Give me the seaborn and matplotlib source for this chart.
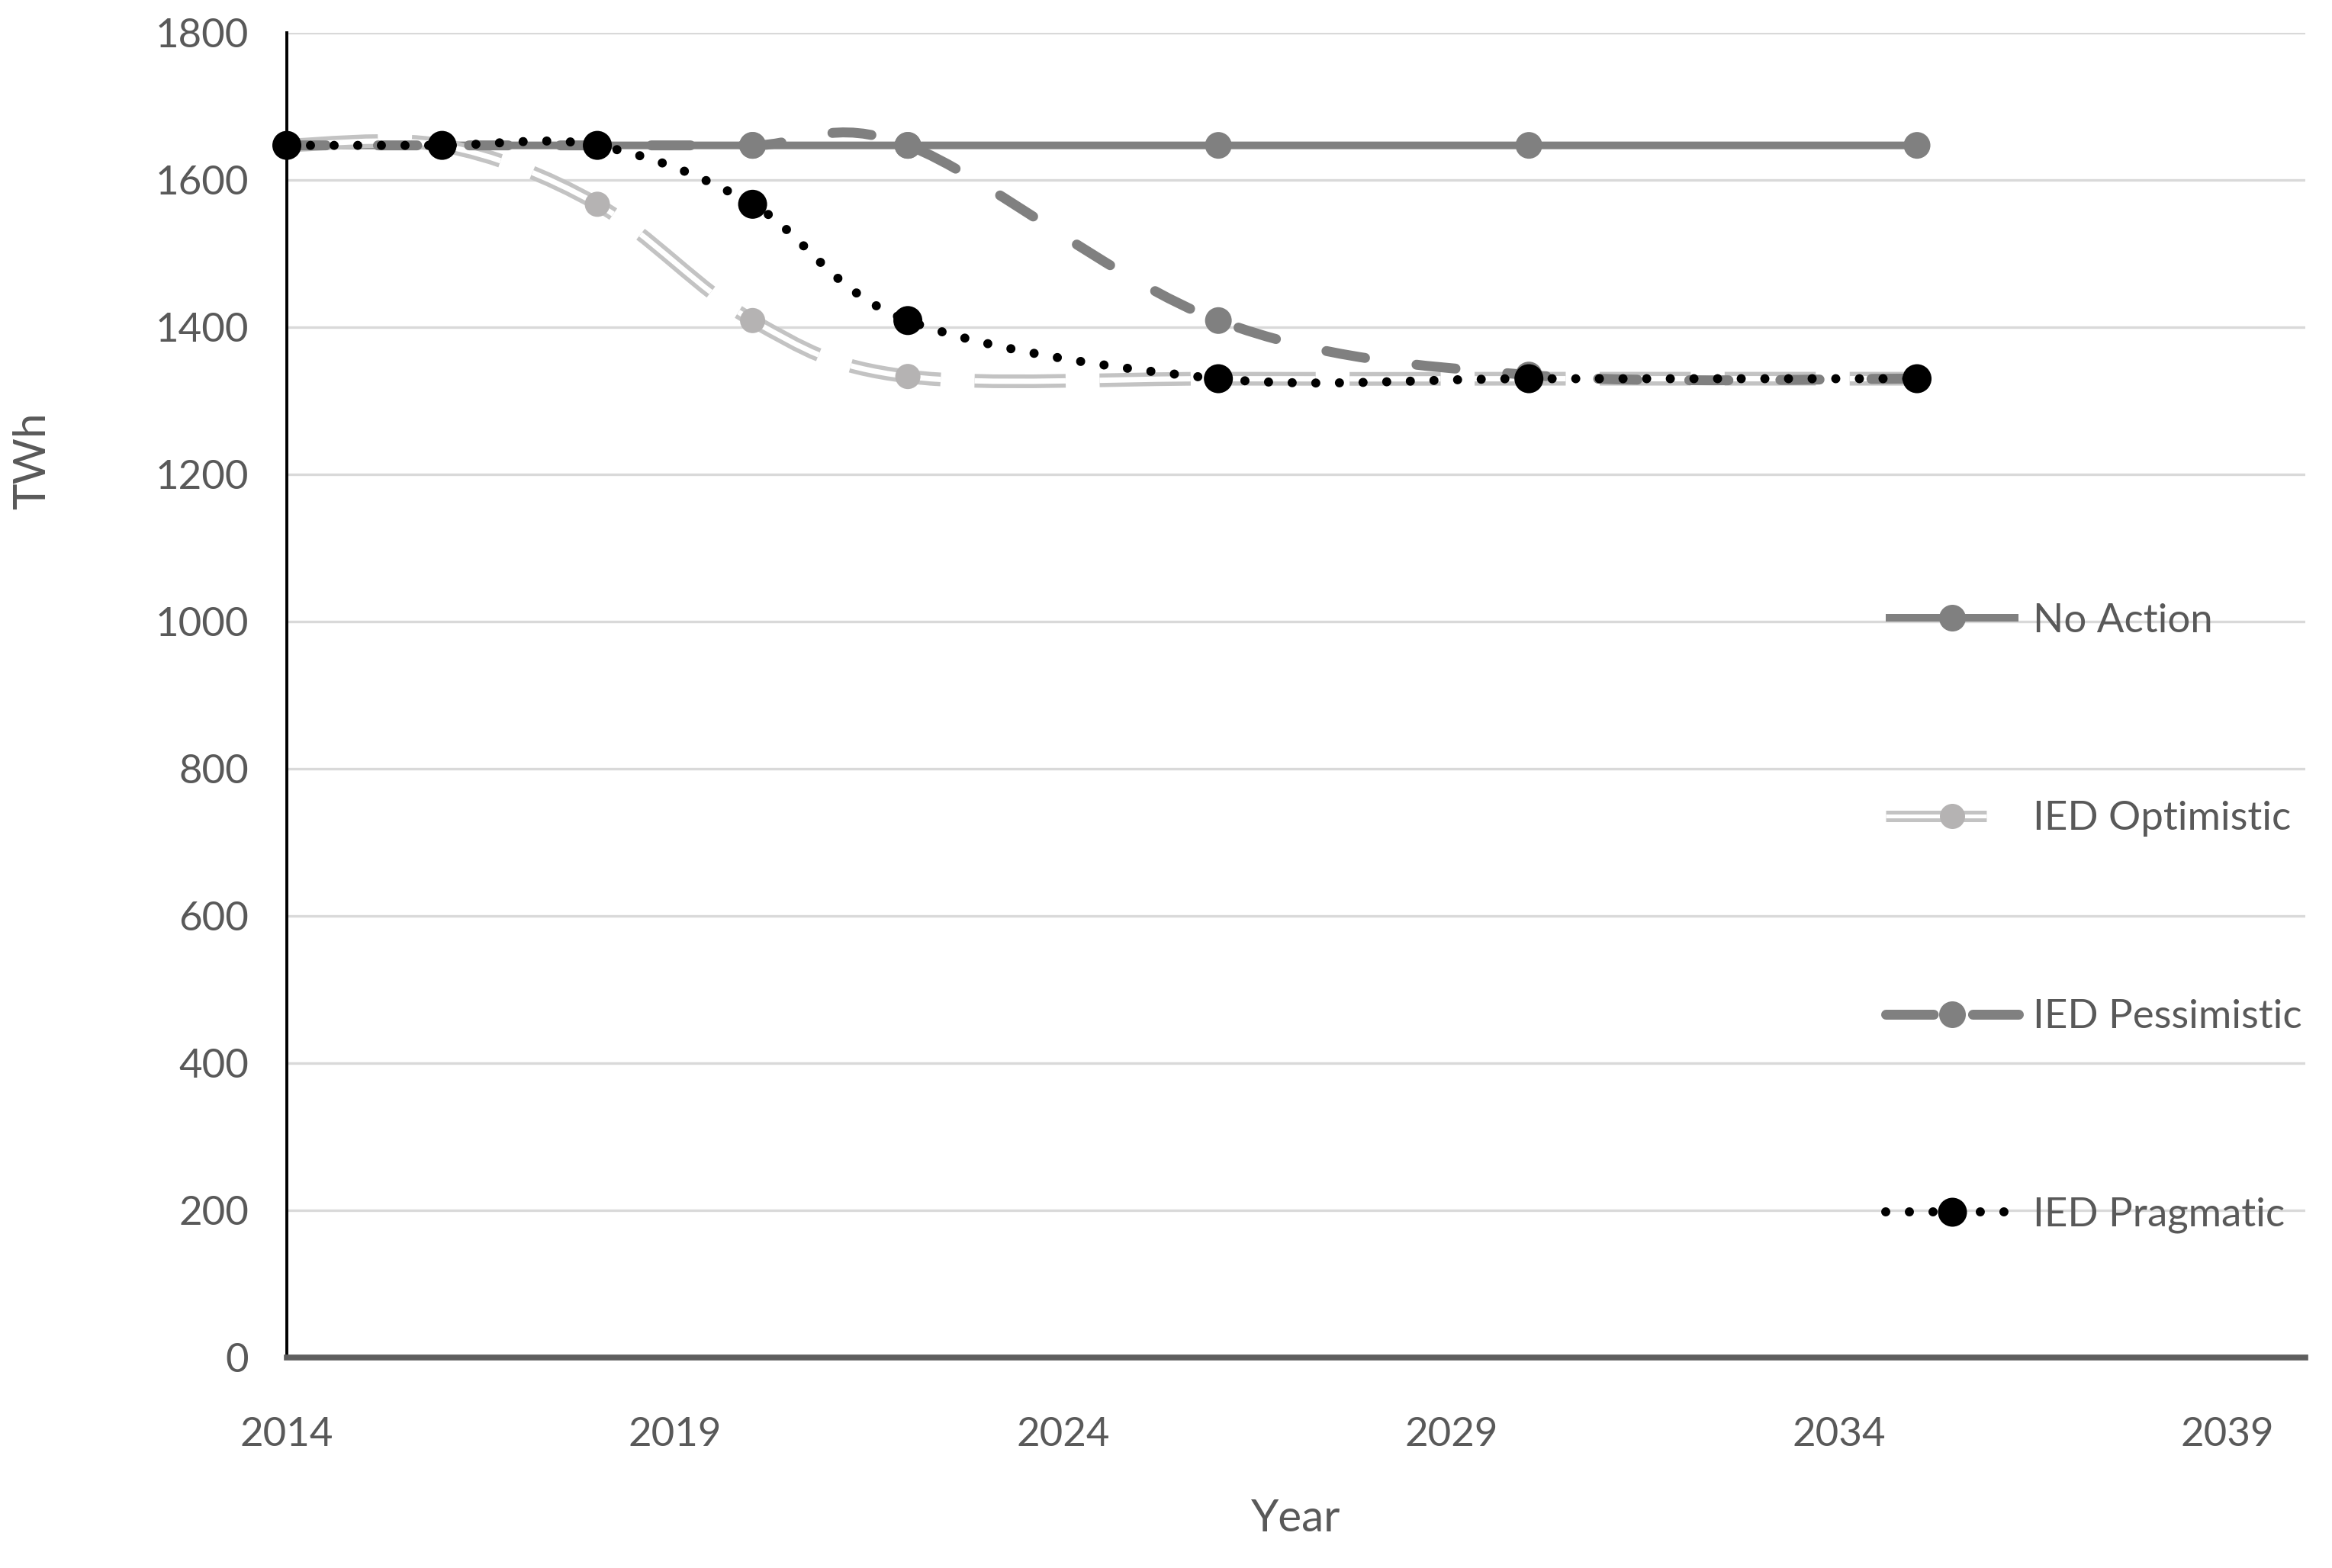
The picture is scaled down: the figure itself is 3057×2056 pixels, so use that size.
import numpy as np
import matplotlib
matplotlib.use("Agg")
import matplotlib.pyplot as plt
import seaborn as sns
from matplotlib.path import Path
from matplotlib.patches import PathPatch
from matplotlib.lines import Line2D
from matplotlib.legend_handler import HandlerTuple

# values (TWh)
years = [2014, 2016, 2018, 2020, 2022, 2026, 2030, 2035]
no_action = [1647, 1647, 1647, 1647, 1647, 1647, 1647, 1647]
ied_optimistic = [1647, 1647, 1567, 1409, 1333, 1330, 1330, 1330]
ied_pessimistic = [1647, 1647, 1647, 1647, 1647, 1409, 1335, 1330]
ied_pragmatic = [1647, 1647, 1647, 1567, 1409, 1330, 1330, 1330]
series_names = ["No Action", "IED Optimistic", "IED Pessimistic", "IED Pragmatic"]
x_ticks = [2014, 2019, 2024, 2029, 2034, 2039]
y_ticks = list(range(0, 1801, 200))

PX = 0.72  # points per pixel at dpi=100
TXT = "#595959"

sns.set_theme(style="white")
plt.rcParams["font.family"] = ["Lato", "DejaVu Sans"]
plt.rcParams["lines.scale_dashes"] = False


def smooth_path(xs, ys):
    # Excel style smoothed line: cubic bezier through every point
    pts = np.column_stack([xs, ys]).astype(float)
    n = len(pts)
    verts, codes = [pts[0]], [Path.MOVETO]
    for i in range(n - 1):
        p0, p1 = pts[max(i - 1, 0)], pts[i]
        p2, p3 = pts[i + 1], pts[min(i + 2, n - 1)]
        verts += [p1 + (p2 - p0) / 6, p2 - (p3 - p1) / 6, p2]
        codes += [Path.CURVE4] * 3
    return Path(verts, codes)


def draw_curve(ax, ys, color, lw_px, dashes=None, cap="butt", z=3):
    patch = PathPatch(smooth_path(years, ys), facecolor="none", edgecolor=color,
                      linewidth=lw_px * PX, capstyle=cap, joinstyle="round", zorder=z)
    if dashes:
        patch.set_linestyle((0, dashes))
    patch.set_clip_on(False)
    ax.add_patch(patch)


def draw_markers(ax, ys, color, d_px, z):
    sns.scatterplot(x=years, y=ys, ax=ax, color=color, s=(d_px * PX) ** 2, marker="o",
                    edgecolor="none", linewidth=0, zorder=z, clip_on=False, legend=False)


fig, ax = plt.subplots(figsize=(30.57, 20.56), dpi=100)
fig.subplots_adjust(left=0.123, right=0.9885, bottom=0.1342, top=0.9791)

gray = "#808080"
light = "#c3c3c3"
light_m = "#b5b3b3"

# No Action
draw_curve(ax, no_action, gray, 10, cap="round", z=3)
draw_markers(ax, no_action, gray, 35, 3.5)
# IED Optimistic - double dashed line
opt_dash = (86, 32)
draw_curve(ax, ied_optimistic, light, 18, dashes=opt_dash, z=4)
draw_curve(ax, ied_optimistic, "white", 7, dashes=opt_dash, z=4.1)
draw_markers(ax, ied_optimistic, light_m, 33, 4.5)
# IED Pessimistic - long dash
draw_curve(ax, ied_pessimistic, gray, 13, dashes=(37, 49), cap="round", z=5)
draw_markers(ax, ied_pessimistic, gray, 35, 5.5)
# IED Pragmatic - round dots
draw_curve(ax, ied_pragmatic, "black", 12, dashes=(0.01, 22.3), cap="round", z=6)
draw_markers(ax, ied_pragmatic, "black", 38, 6.5)

ax.set_xlim(2014, 2040)
ax.set_ylim(0, 1800)
ax.set_xticks(x_ticks)
ax.set_yticks(y_ticks)
ax.grid(axis="y", color="#d9d9d9", linewidth=2.4)
ax.grid(axis="x", visible=False)
ax.set_axisbelow(True)
for s in ["top", "right"]:
    ax.spines[s].set_visible(False)
ax.spines["left"].set_color("black")
ax.spines["left"].set_linewidth(2.8)
ax.spines["bottom"].set_color("#5e5e5e")
ax.spines["bottom"].set_linewidth(5.5)
ax.tick_params(axis="both", length=0, labelsize=38, labelcolor=TXT)
ax.tick_params(axis="x", pad=56)
ax.tick_params(axis="y", pad=36)

ax.set_xlabel("Year", fontsize=42, color=TXT)
ax.set_ylabel("TWh", fontsize=42, color=TXT)
ax.xaxis.label.set_va("center")
ax.yaxis.label.set_va("center")
ax.xaxis.set_label_coords(0.5, -0.1215)
ax.yaxis.set_label_coords(-0.1259, 0.677)

# legend
h_no = Line2D([], [], color=gray, lw=10 * PX, solid_capstyle="butt",
              marker="o", ms=35 * PX, mfc=gray, mec="none")
h_opt = (Line2D([], [], color=light, lw=15 * PX, dashes=(95, 40), dash_capstyle="butt"),
         Line2D([], [], color="white", lw=5 * PX, dashes=(95, 40), dash_capstyle="butt"),
         Line2D([], [], ls="none", marker="o", ms=33 * PX, mfc=light_m, mec="none"))
h_pes = Line2D([], [], color=gray, lw=13 * PX, dashes=(45, 37), dash_capstyle="round",
               marker="o", ms=35 * PX, mfc=gray, mec="none")
h_pra = Line2D([], [], color="black", lw=12 * PX, dashes=(0.01, 22.3), dash_capstyle="round",
               marker="o", ms=38 * PX, mfc="black", mec="none")
leg = ax.legend([h_no, h_opt, h_pes, h_pra], series_names, loc="center left",
                bbox_to_anchor=(0.8086, 0.4144), bbox_transform=fig.transFigure,
                frameon=False, fontsize=38, labelcolor=TXT, handlelength=3.3,
                handletextpad=0.35, labelspacing=4.03, borderpad=0, borderaxespad=0,
                handler_map={tuple: HandlerTuple(ndivide=1)})

fig.savefig("out.png", dpi=100, facecolor="white")
